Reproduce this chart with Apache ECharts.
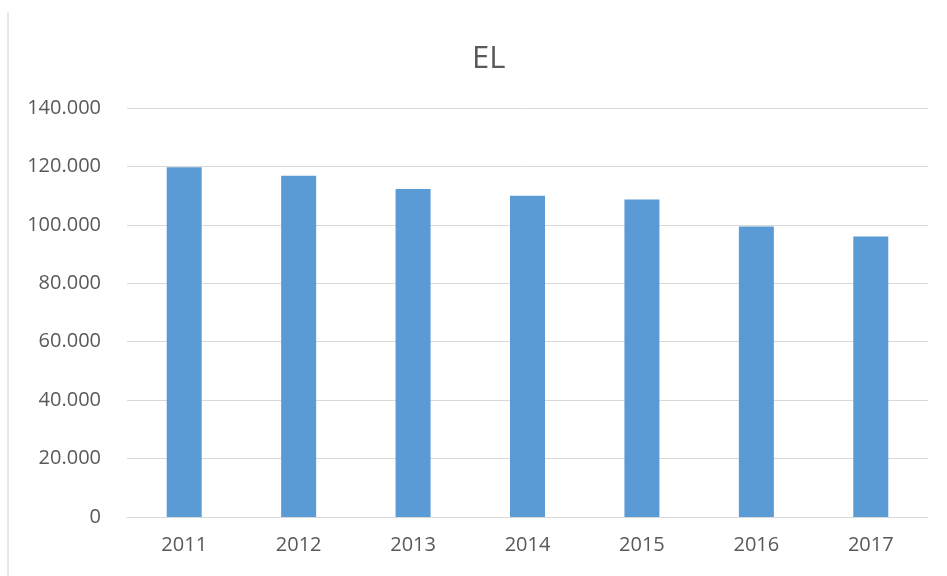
<!DOCTYPE html>
<html>
<head>
<meta charset="utf-8">
<script src="https://cdn.jsdelivr.net/npm/echarts@6/dist/echarts.min.js"></script>
<style>html,body{margin:0;padding:0;background:#fff;}#c{width:947px;height:576px;}</style>
</head>
<body>
<div id="c"></div>
<script>
const categories = ['2011', '2012', '2013', '2014', '2015', '2016', '2017'];
const values = [119700, 116800, 112300, 110000, 108700, 99400, 96000];
const titleText = 'EL';

function fmt(v) {
  return String(v).replace(/\B(?=(\d{3})+(?!\d))/g, '.');
}

const chart = echarts.init(document.getElementById('c'));
chart.setOption({
  backgroundColor: '#ffffff',
  animation: false,
  title: {
    text: titleText,
    left: 467,
    top: 39,
    textStyle: { fontFamily: 'Open Sans', fontSize: 31, fontWeight: 'normal', color: '#595959' }
  },
  graphic: [{
    type: 'line',
    shape: { x1: 8, y1: 12, x2: 8, y2: 576 },
    style: { stroke: '#d0d0d0', lineWidth: 1 }
  }],
  grid: { left: 127, right: 19, top: 108, bottom: 59 },
  xAxis: {
    type: 'category',
    data: categories,
    axisLine: { lineStyle: { color: '#d9d9d9', width: 1 } },
    axisTick: { show: false },
    axisLabel: { margin: 18, fontFamily: 'Open Sans', fontSize: 20, color: '#595959' }
  },
  yAxis: {
    type: 'value',
    min: 0,
    max: 140000,
    interval: 20000,
    axisLine: { show: false },
    axisTick: { show: false },
    splitLine: { lineStyle: { color: '#d9d9d9', width: 1 } },
    axisLabel: { margin: 26, fontFamily: 'Open Sans', fontSize: 20, color: '#595959', formatter: fmt }
  },
  series: [{
    type: 'bar',
    data: values,
    barWidth: 35,
    itemStyle: { color: '#5b9bd5' }
  }]
});
</script>
</body>
</html>
